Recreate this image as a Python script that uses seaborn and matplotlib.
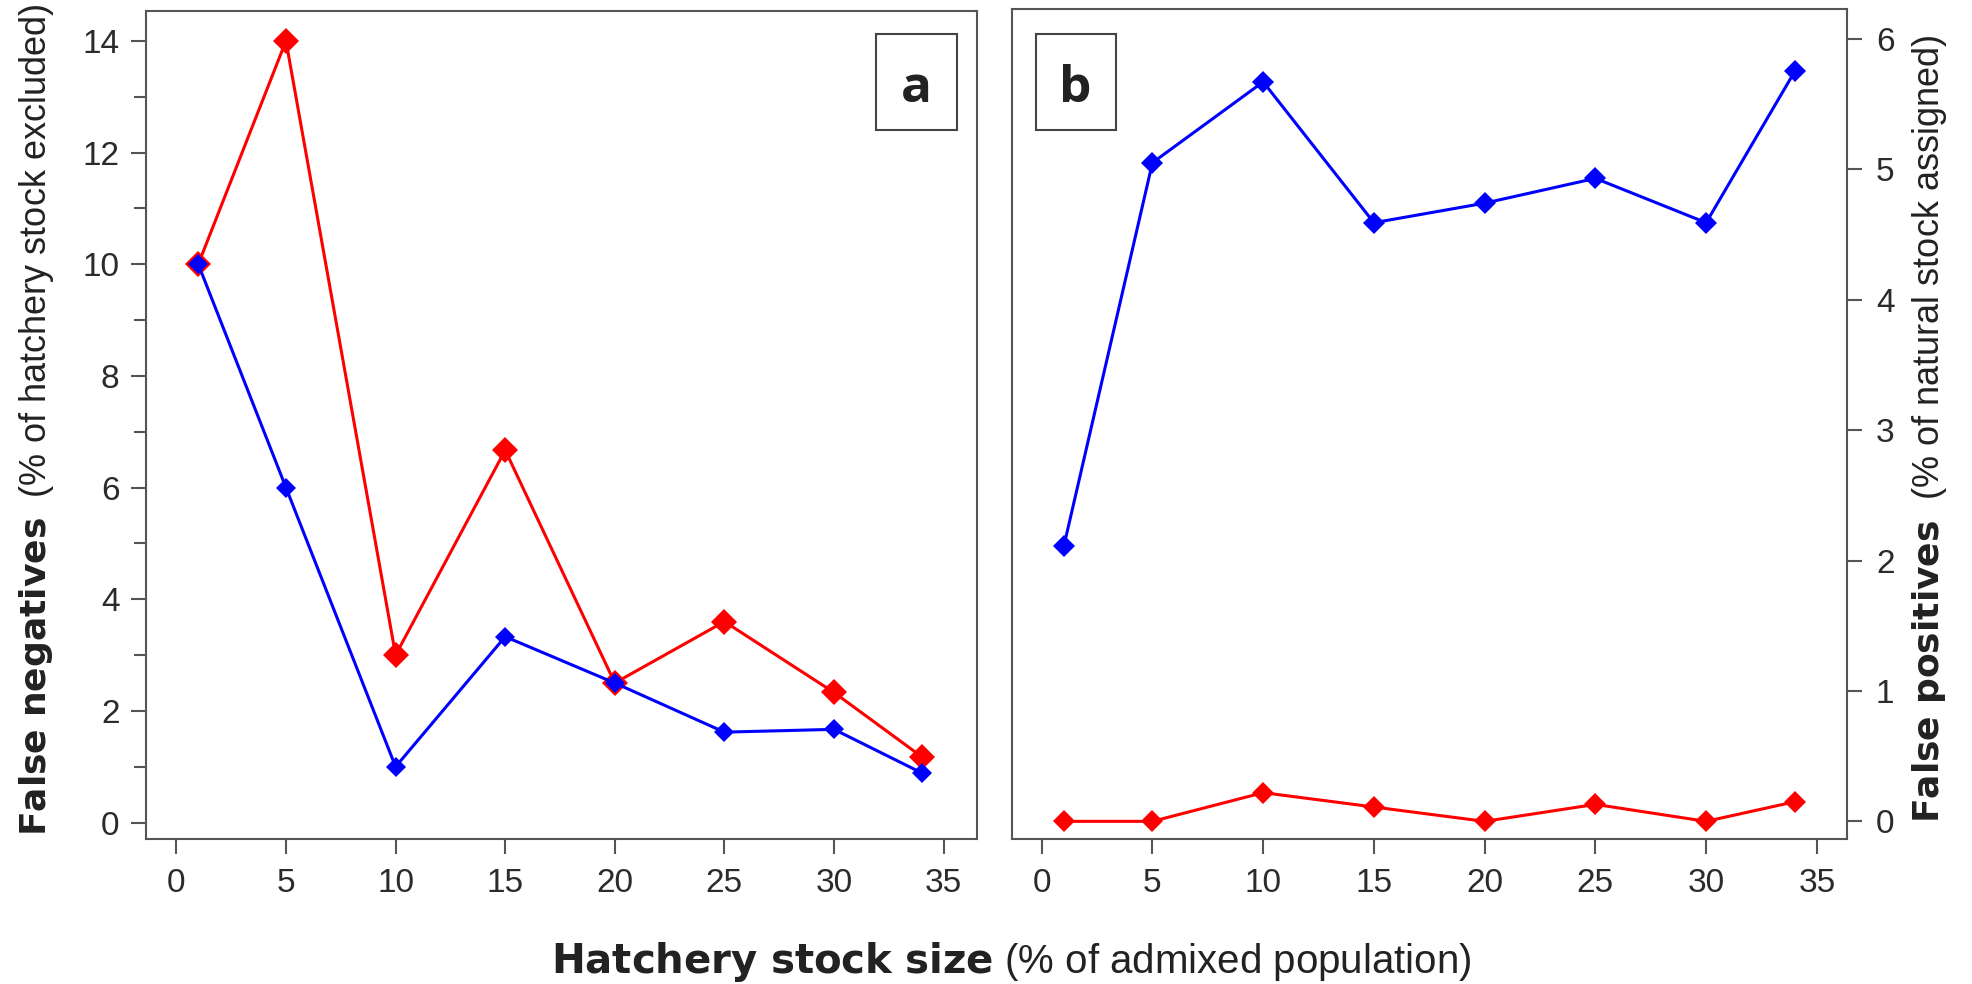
import matplotlib
matplotlib.use("Agg")
import matplotlib.pyplot as plt
from matplotlib.patches import Rectangle
from matplotlib.ticker import FixedLocator
import seaborn as sns

# Hatchery stock size (% of admixed population)
stock_size = [1, 5, 10, 15, 20, 25, 30, 34]

# Panel a: false negatives (% of hatchery stock excluded)
fn_red = [10, 14, 3, 6.67, 2.5, 3.6, 2.33, 1.18]
fn_blue = [10, 6, 1, 3.33, 2.5, 1.62, 1.67, 0.89]

# Panel b: false positives (% of natural stock assigned)
fp_blue = [2.11, 5.05, 5.67, 4.59, 4.74, 4.93, 4.59, 5.75]
fp_red = [0, 0, 0.22, 0.11, 0, 0.13, 0, 0.15]

x_ticks = [0, 5, 10, 15, 20, 25, 30, 35]
fn_ticks = [0, 2, 4, 6, 8, 10, 12, 14]
fn_minor = [1, 3, 5, 7, 9, 11, 13]
fp_ticks = [0, 1, 2, 3, 4, 5, 6]

sns.set_theme(style="white")
plt.rcParams["font.family"] = ["Liberation Sans", "DejaVu Sans"]
plt.rcParams["mathtext.fontset"] = "custom"
plt.rcParams["mathtext.bf"] = "DejaVu Sans:bold"
plt.rcParams["mathtext.rm"] = "Liberation Sans"

RED = "#ff0000"
BLUE = "#0000ff"
FRAME = "#555555"
TEXT = "#2b2b2b"

fig = plt.figure(figsize=(19.72, 9.84), dpi=100)
fig.patch.set_facecolor("white")
ax_a = fig.add_axes([0.0742, 0.1470, 0.4211, 0.8421])
ax_b = fig.add_axes([0.5133, 0.1470, 0.4232, 0.8435])


def style_axes(ax, side):
    for sp in ax.spines.values():
        sp.set_color(FRAME)
        sp.set_linewidth(1.5)
        sp.set_visible(True)
    ax.set_xticks(x_ticks)
    ax.tick_params(axis="both", which="major", direction="out", length=11,
                   width=1.5, color=FRAME, labelsize=24, labelcolor=TEXT)
    ax.tick_params(axis="x", pad=9.4, bottom=True)
    if side == "left":
        ax.tick_params(axis="y", left=True, right=False, pad=8.3)
    else:
        ax.yaxis.tick_right()
        ax.tick_params(axis="y", right=True, left=False, pad=10)
    ax.set_xlabel("")
    ax.set_ylabel("")
    ax.grid(False)


# Panel a
sns.lineplot(x=stock_size, y=fn_red, ax=ax_a, color=RED, marker="D",
             markersize=13, markeredgewidth=0, linewidth=2.2)
sns.lineplot(x=stock_size, y=fn_blue, ax=ax_a, color=BLUE, marker="D",
             markersize=10.3, markeredgewidth=0, linewidth=2.2)
style_axes(ax_a, "left")
ax_a.set_yticks(fn_ticks)
ax_a.yaxis.set_minor_locator(FixedLocator(fn_minor))
ax_a.tick_params(axis="y", which="minor", direction="out", length=8.6,
                 width=1.5, color=FRAME, left=True)
ax_a.set_xlim(-1.37, 36.51)
ax_a.set_ylim(-0.30, 14.54)

# Panel b
sns.lineplot(x=stock_size, y=fp_blue, ax=ax_b, color=BLUE, marker="D",
             markersize=11, markeredgewidth=0, linewidth=2.2)
sns.lineplot(x=stock_size, y=fp_red, ax=ax_b, color=RED, marker="D",
             markersize=11, markeredgewidth=0, linewidth=2.2)
style_axes(ax_b, "right")
ax_b.set_yticks(fp_ticks)
ax_b.set_xlim(-1.33, 36.35)
ax_b.set_ylim(-0.138, 6.226)


def panel_tag(ax, letter, x0, x1, y0, y1, ybase):
    ax.add_patch(Rectangle((x0, y0), x1 - x0, y1 - y0, transform=ax.transAxes,
                           facecolor="white", edgecolor="#444444",
                           linewidth=1.5, zorder=5))
    ax.text((x0 + x1) / 2, ybase, letter, transform=ax.transAxes,
            ha="center", va="baseline", fontsize=37, fontweight="bold",
            family=["Open Sans", "DejaVu Sans"], color="#222222", zorder=6)


panel_tag(ax_a, "a", 0.8787, 0.9759, 0.856, 0.9719, 0.8902)
panel_tag(ax_b, "b", 0.028, 0.1239, 0.8546, 0.9702, 0.8887)

# Axis titles
fig.text(0.5127, 0.0112,
         r"$\mathbf{Hatchery\ stock\ size}$ (% of admixed population)",
         ha="center", va="baseline", fontsize=29, color="#222222")
fig.text(0.0185, 0.1504,
         r"$\mathbf{False\ negatives}$  (% of hatchery stock excluded)",
         rotation=90, ha="center", va="bottom", fontsize=26, color="#222222")
fig.text(0.9787, 0.1639,
         r"$\mathbf{False\ positives}$  (% of natural stock assigned)",
         rotation=90, ha="center", va="bottom", fontsize=26, color="#222222")

fig.savefig("out.png", dpi=100, facecolor="white")
